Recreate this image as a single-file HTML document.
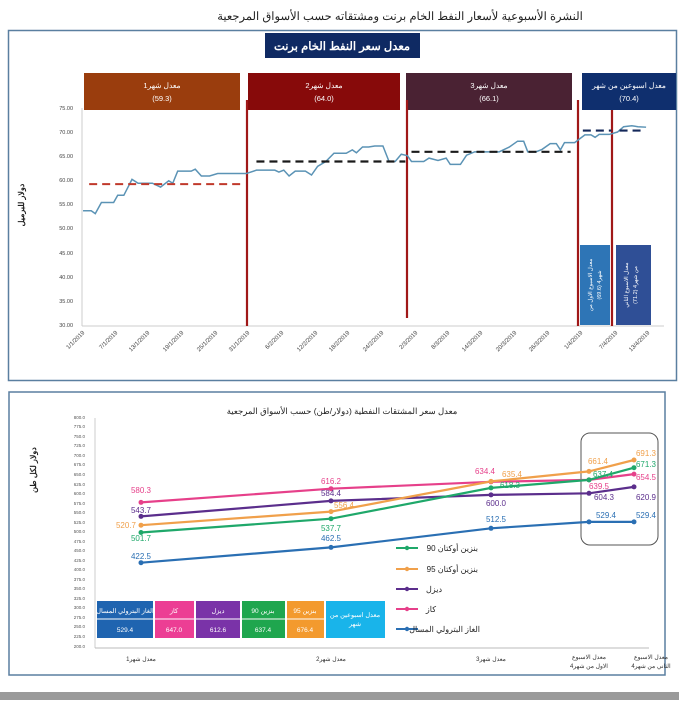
<!DOCTYPE html>
<html><head><meta charset="utf-8"><style>
body{margin:0;background:#fff;width:679px;height:700px;overflow:hidden;font-family:"Liberation Sans","Noto Sans CJK SC",sans-serif}
svg text{font-family:"Liberation Sans","Noto Sans CJK SC",sans-serif}
</style></head><body>
<svg width="679" height="700" viewBox="0 0 679 700" xmlns="http://www.w3.org/2000/svg">
<text x="400" y="20" font-size="11.5" text-anchor="middle" fill="#222">النشرة الأسبوعية  لأسعار النفط الخام برنت ومشتقاته حسب الأسواق المرجعية</text>
<rect x="8.5" y="30.5" width="668" height="350" fill="#fff" stroke="#5a7fa0" stroke-width="1.5"/>
<rect x="265" y="33" width="155" height="25" fill="#0f2a63"/>
<text x="342" y="50" font-size="11.5" fill="#fff" text-anchor="middle" font-weight="bold">معدل سعر النفط الخام برنت</text>
<rect x="84" y="73" width="156" height="37" fill="#9a3d0d"/>
<rect x="248" y="73" width="152" height="37" fill="#870a0a"/>
<rect x="406" y="73" width="166" height="37" fill="#4a2233"/>
<rect x="582" y="73" width="94" height="37" fill="#0f2f6e"/>
<g font-size="7.5" fill="#fff" text-anchor="middle">
<text x="162" y="88">معدل شهر1</text><text x="162" y="101">(59.3)</text>
<text x="324" y="88">معدل شهر2</text><text x="324" y="101">(64.0)</text>
<text x="489" y="88">معدل شهر3</text><text x="489" y="101">(66.1)</text>
<text x="629" y="88">معدل  اسبوعين من شهر</text><text x="629" y="101">(70.4)</text>
</g>
<g font-size="5.5" fill="#444" text-anchor="end">
<text x="73" y="110">75.00</text><text x="73" y="134">70.00</text><text x="73" y="158">65.00</text><text x="73" y="182">60.00</text><text x="73" y="206">55.00</text><text x="73" y="230">50.00</text><text x="73" y="255">45.00</text><text x="73" y="279">40.00</text><text x="73" y="303">35.00</text><text x="73" y="327">30.00</text>
</g>
<line x1="82" y1="108" x2="82" y2="326" stroke="#ccc"/>
<line x1="82" y1="326" x2="664" y2="326" stroke="#ccc"/>
<text transform="translate(24,205) rotate(-90)" font-size="8" font-weight="bold" text-anchor="middle" fill="#222">دولار للبرميل</text>
<rect x="580" y="245" width="30" height="80" fill="#2e75b6"/>
<rect x="616" y="245" width="35" height="80" fill="#2f4f96"/>
<text transform="translate(592,285) rotate(-90)" font-size="5.5" fill="#fff" text-anchor="middle">معدل الاسبوع الاول من</text>
<text transform="translate(601,285) rotate(-90)" font-size="5.5" fill="#fff" text-anchor="middle">شهر4 (69.6)</text>
<text transform="translate(628,285) rotate(-90)" font-size="5.5" fill="#fff" text-anchor="middle">معدل الاسبوع الثاني</text>
<text transform="translate(637,285) rotate(-90)" font-size="5.5" fill="#fff" text-anchor="middle">من شهر4 (71.2)</text>
<g stroke="#a01818" stroke-width="2.2">
<line x1="247" y1="100" x2="247" y2="326"/><line x1="407" y1="100" x2="407" y2="318"/><line x1="578" y1="100" x2="578" y2="326"/><line x1="612" y1="110" x2="612" y2="326"/>
</g>
<g transform="matrix(0.408,0,0,-4.83,30,470.6)" fill="none">
<polyline vector-effect="non-scaling-stroke" stroke="#5b93b5" stroke-width="1.5" points="130,53.8 150,53.8 160,53.2 175,55.5 205,55.5 215,57 230,57 250,60.3 265,59.5 300,59.5 320,58.7 340,60 350,59.5 362,62 395,62 405,62.4 420,61 440,61 460,61.5 530,61.5 555,62.2 600,62.2 610,61.8 622,62.2 635,61 650,62 675,62 690,61.2 705,63 725,64 745,65.7 775,65.7 790,66.4 800,65.8 815,67 830,67 845,67.2 865,67.2 880,64 895,64 910,65.5 925,65.2 935,64 965,64 978,64.7 1000,64.2 1020,64.7 1030,63.4 1055,63.4 1070,65.3 1090,66 1150,66 1175,67 1195,68.2 1210,68.2 1220,66 1240,66 1255,66.5 1275,67.7 1290,67.7 1300,66.4 1310,67.9 1335,67.9 1360,69.5 1375,69.5 1385,69 1395,69.6 1420,69.6 1440,70.1 1455,71.2 1475,71.4 1490,71.2 1510,71.1"/>
<line vector-effect="non-scaling-stroke" x1="145" y1="59.3" x2="525" y2="59.3" stroke="#c0392b" stroke-width="2" stroke-dasharray="8,5"/>
<line vector-effect="non-scaling-stroke" x1="555" y1="64" x2="920" y2="64" stroke="#1a1a1a" stroke-width="2.2" stroke-dasharray="8,5"/>
<line vector-effect="non-scaling-stroke" x1="935" y1="66" x2="1325" y2="66" stroke="#1a1a1a" stroke-width="2.2" stroke-dasharray="8,5"/>
<line vector-effect="non-scaling-stroke" x1="1355" y1="70.4" x2="1425" y2="70.4" stroke="#14285a" stroke-width="2.2" stroke-dasharray="8,5"/>
<line vector-effect="non-scaling-stroke" x1="1445" y1="70.4" x2="1505" y2="70.4" stroke="#14285a" stroke-width="2.2" stroke-dasharray="8,5"/>
</g>
<g font-size="6" fill="#444" text-anchor="end">
<text transform="translate(85,333) rotate(-45)">1/1/2019</text><text transform="translate(118,333) rotate(-45)">7/1/2019</text><text transform="translate(150,333) rotate(-45)">13/1/2019</text><text transform="translate(184,333) rotate(-45)">19/1/2019</text><text transform="translate(218,333) rotate(-45)">25/1/2019</text><text transform="translate(250,333) rotate(-45)">31/1/2019</text><text transform="translate(284,333) rotate(-45)">6/2/2019</text><text transform="translate(318,333) rotate(-45)">12/2/2019</text><text transform="translate(350,333) rotate(-45)">18/2/2019</text><text transform="translate(384,333) rotate(-45)">24/2/2019</text><text transform="translate(418,333) rotate(-45)">2/3/2019</text><text transform="translate(450,333) rotate(-45)">8/3/2019</text><text transform="translate(483,333) rotate(-45)">14/3/2019</text><text transform="translate(517,333) rotate(-45)">20/3/2019</text><text transform="translate(550,333) rotate(-45)">26/3/2019</text><text transform="translate(583,333) rotate(-45)">1/4/2019</text><text transform="translate(618,333) rotate(-45)">7/4/2019</text><text transform="translate(650,333) rotate(-45)">13/4/2019</text>
</g>

<rect x="9" y="392" width="656" height="283" fill="#fff" stroke="#5a7fa0" stroke-width="1.5"/>
<text x="342" y="414" font-size="8.5" text-anchor="middle" fill="#222">معدل سعر المشتقات النفطية (دولار/طن) حسب الأسواق المرجعية</text>
<g font-size="4.5" fill="#555" text-anchor="end">
<text x="85" y="419">800.0</text><text x="85" y="428">775.0</text><text x="85" y="438">750.0</text><text x="85" y="447">725.0</text><text x="85" y="457">700.0</text><text x="85" y="466">675.0</text><text x="85" y="476">650.0</text><text x="85" y="486">625.0</text><text x="85" y="495">600.0</text><text x="85" y="505">575.0</text><text x="85" y="514">550.0</text><text x="85" y="524">525.0</text><text x="85" y="533">500.0</text><text x="85" y="543">475.0</text><text x="85" y="552">450.0</text><text x="85" y="562">425.0</text><text x="85" y="571">400.0</text><text x="85" y="581">375.0</text><text x="85" y="590">350.0</text><text x="85" y="600">325.0</text><text x="85" y="609">300.0</text><text x="85" y="619">275.0</text><text x="85" y="628">250.0</text><text x="85" y="638">225.0</text><text x="85" y="648">200.0</text>
</g>
<line x1="95" y1="418" x2="95" y2="648" stroke="#ccc"/>
<line x1="95" y1="648" x2="649" y2="648" stroke="#bbb"/>
<text transform="translate(36,470) rotate(-90)" font-size="8" font-weight="bold" text-anchor="middle" fill="#222">دولار لكل طن</text>
<rect x="581" y="433" width="77" height="112" rx="9" fill="none" stroke="#555" stroke-width="1"/>
<g stroke-width="2.2" fill="none">
<polyline stroke="#e6408a" points="141,502.4 331,488.7 491,481.8 589,479.9 634,474.1"/>
<polyline stroke="#5b2e8c" points="141,516.4 331,500.9 491,494.9 589,493.3 634,486.9"/>
<polyline stroke="#f0a04b" points="141,525.2 331,511.6 491,481.4 589,471.4 634,460"/>
<polyline stroke="#1fa86a" points="141,532.5 331,518.7 491,487.9 589,479.9 634,467.7"/>
<polyline stroke="#2a6fb3" points="141,562.7 331,547.4 491,528.3 589,521.9 634,521.9"/>
</g>
<g>
<g fill="#e6408a"><circle cx="141" cy="502.4" r="2.5"/><circle cx="331" cy="488.7" r="2.5"/><circle cx="491" cy="481.8" r="2.5"/><circle cx="589" cy="479.9" r="2.5"/><circle cx="634" cy="474.1" r="2.5"/></g>
<g fill="#5b2e8c"><circle cx="141" cy="516.4" r="2.5"/><circle cx="331" cy="500.9" r="2.5"/><circle cx="491" cy="494.9" r="2.5"/><circle cx="589" cy="493.3" r="2.5"/><circle cx="634" cy="486.9" r="2.5"/></g>
<g fill="#f0a04b"><circle cx="141" cy="525.2" r="2.5"/><circle cx="331" cy="511.6" r="2.5"/><circle cx="491" cy="481.4" r="2.5"/><circle cx="589" cy="471.4" r="2.5"/><circle cx="634" cy="460" r="2.5"/></g>
<g fill="#1fa86a"><circle cx="141" cy="532.5" r="2.5"/><circle cx="331" cy="518.7" r="2.5"/><circle cx="491" cy="487.9" r="2.5"/><circle cx="589" cy="479.9" r="2.5"/><circle cx="634" cy="467.7" r="2.5"/></g>
<g fill="#2a6fb3"><circle cx="141" cy="562.7" r="2.5"/><circle cx="331" cy="547.4" r="2.5"/><circle cx="491" cy="528.3" r="2.5"/><circle cx="589" cy="521.9" r="2.5"/><circle cx="634" cy="521.9" r="2.5"/></g>
</g>
<g font-size="8" text-anchor="middle">
<text x="141" y="493" fill="#e6408a">580.3</text><text x="331" y="484" fill="#e6408a">616.2</text><text x="485" y="474" fill="#e6408a">634.4</text><text x="599" y="489" fill="#e6408a">639.5</text><text x="646" y="480" fill="#e6408a">654.5</text>
<text x="141" y="513" fill="#5b2e8c">543.7</text><text x="331" y="496" fill="#5b2e8c">584.4</text><text x="496" y="506" fill="#5b2e8c">600.0</text><text x="604" y="500" fill="#5b2e8c">604.3</text><text x="646" y="500" fill="#5b2e8c">620.9</text>
<text x="126" y="528" fill="#f0a04b">520.7</text><text x="344" y="508" fill="#f0a04b">556.4</text><text x="512" y="477" fill="#f0a04b">635.4</text><text x="598" y="464" fill="#f0a04b">661.4</text><text x="646" y="456" fill="#f0a04b">691.3</text>
<text x="141" y="541" fill="#1fa86a">501.7</text><text x="331" y="531" fill="#1fa86a">537.7</text><text x="510" y="488" fill="#1fa86a">618.3</text><text x="603" y="477" fill="#1fa86a">637.4</text><text x="646" y="467" fill="#1fa86a">671.3</text>
<text x="141" y="559" fill="#2a6fb3">422.5</text><text x="331" y="541" fill="#2a6fb3">462.5</text><text x="496" y="522" fill="#2a6fb3">512.5</text><text x="606" y="518" fill="#2a6fb3">529.4</text><text x="646" y="518" fill="#2a6fb3">529.4</text>
</g>
<g stroke-width="2">
<line x1="396" y1="548" x2="418" y2="548" stroke="#1fa86a"/><circle cx="407" cy="548" r="2.2" fill="#1fa86a"/>
<line x1="396" y1="569" x2="418" y2="569" stroke="#f0a04b"/><circle cx="407" cy="569" r="2.2" fill="#f0a04b"/>
<line x1="396" y1="589" x2="418" y2="589" stroke="#5b2e8c"/><circle cx="407" cy="589" r="2.2" fill="#5b2e8c"/>
<line x1="396" y1="609" x2="418" y2="609" stroke="#e6408a"/><circle cx="407" cy="609" r="2.2" fill="#e6408a"/>
<line x1="396" y1="629" x2="418" y2="629" stroke="#2a6fb3"/><circle cx="407" cy="629" r="2.2" fill="#2a6fb3"/>
</g>
<g font-size="8" fill="#222" text-anchor="end">
<text x="478" y="551">بنزين أوكتان 90</text><text x="478" y="572">بنزين أوكتان 95</text><text x="442" y="592">ديزل</text><text x="436" y="612">كاز</text><text x="480" y="632">الغاز البترولي المسال</text>
</g>
<rect x="97" y="601" width="56" height="37" fill="#1f64b0"/>
<rect x="155" y="601" width="39" height="37" fill="#ec3e94"/>
<rect x="196" y="601" width="44" height="37" fill="#7a33a8"/>
<rect x="242" y="601" width="43" height="37" fill="#1fa64e"/>
<rect x="287" y="601" width="37" height="37" fill="#f39a2e"/>
<rect x="326" y="601" width="59" height="37" fill="#19b4ea"/>
<g stroke="#fff" stroke-width="1"><line x1="97" y1="619" x2="324" y2="619"/></g>
<g font-size="6.5" fill="#fff" text-anchor="middle">
<text x="125" y="613">الغاز البترولي المسال</text><text x="174" y="613">كاز</text><text x="218" y="613">ديزل</text><text x="263" y="613">بنزين 90</text><text x="305" y="613">بنزين 95</text>
<text x="125" y="632">529.4</text><text x="174" y="632">647.0</text><text x="218" y="632">612.6</text><text x="263" y="632">637.4</text><text x="305" y="632">676.4</text>
<text x="355" y="617">معدل اسبوعين من</text><text x="355" y="626">شهر</text>
</g>
<g font-size="6" fill="#333" text-anchor="middle">
<text x="141" y="661">معدل شهر1</text><text x="331" y="661">معدل شهر2</text><text x="491" y="661">معدل شهر3</text>
<text x="589" y="659">معدل الاسبوع</text><text x="589" y="668">الاول من شهر4</text>
<text x="651" y="659">معدل الاسبوع</text><text x="651" y="668">الثاني من شهر4</text>
</g>
<rect x="0" y="692" width="679" height="8" fill="#9a9a9a"/>
</svg>
</body></html>
